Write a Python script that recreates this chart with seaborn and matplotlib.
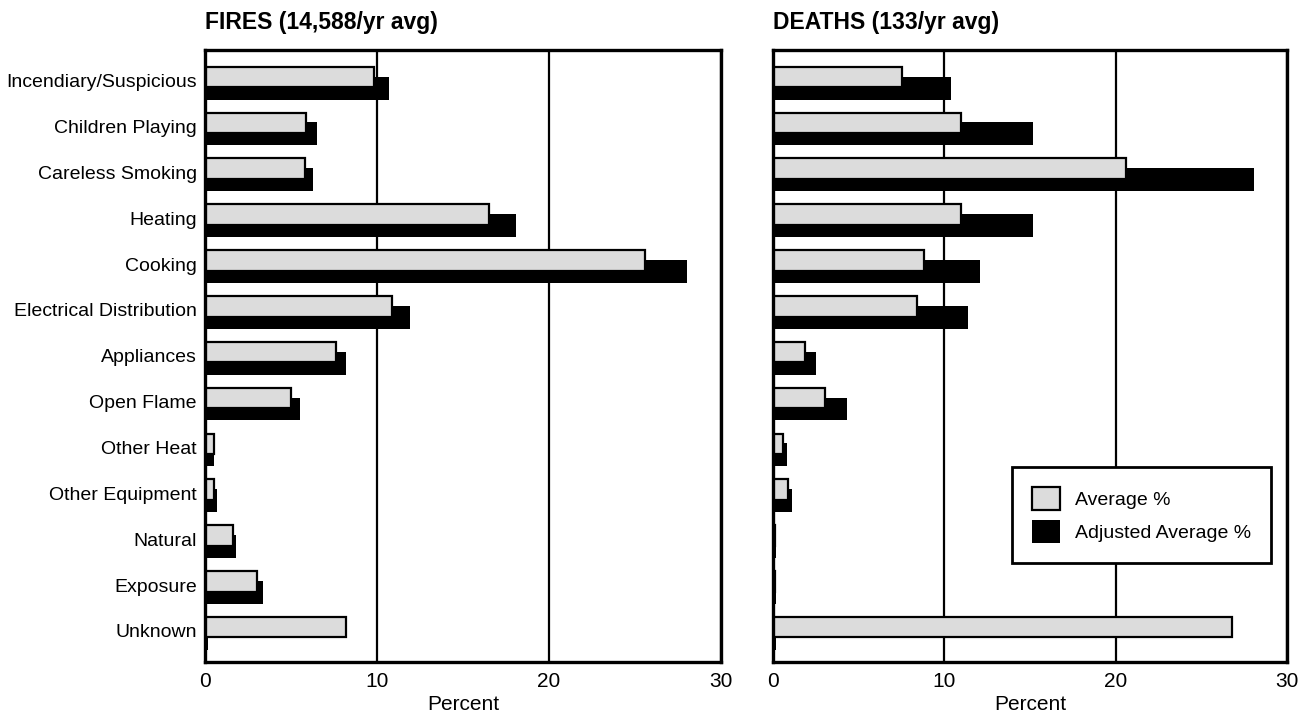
import numpy as np
import matplotlib.pyplot as plt
import seaborn as sns

# causes, top to bottom
categories = ["Incendiary/Suspicious", "Children Playing", "Careless Smoking", "Heating",
              "Cooking", "Electrical Distribution", "Appliances", "Open Flame",
              "Other Heat", "Other Equipment", "Natural", "Exposure", "Unknown"]

# percent values
fires_avg = [9.8, 5.9, 5.8, 16.5, 25.6, 10.9, 7.6, 5.0, 0.5, 0.55, 1.65, 3.05, 8.2]
fires_adj = [10.7, 6.5, 6.3, 18.1, 28.0, 11.9, 8.2, 5.5, 0.55, 0.7, 1.8, 3.35, 0.15]
deaths_avg = [7.55, 11.0, 20.6, 11.0, 8.8, 8.4, 1.9, 3.05, 0.6, 0.9, 0.1, 0.1, 26.8]
deaths_adj = [10.4, 15.2, 28.1, 15.2, 12.1, 11.4, 2.5, 4.3, 0.8, 1.1, 0.15, 0.15, 0.15]

xticks = [0, 10, 20, 30]

sns.set_style("white")
plt.rcParams['font.family'] = ['Liberation Sans', 'DejaVu Sans']
plt.rcParams['text.color'] = 'black'
plt.rcParams['axes.labelcolor'] = 'black'

fig = plt.figure(figsize=(13.03, 7.24), dpi=100)
ax1 = fig.add_axes([0.1573, 0.0856, 0.396, 0.8453])
ax2 = fig.add_axes([0.5932, 0.0856, 0.3945, 0.8453])

pos = np.arange(len(categories))


def panel(ax, avg, adj, title):
    sns.barplot(x=adj, y=pos + 0.24, orient='h', native_scale=True, width=0.5,
                color='black', saturation=1, linewidth=0, errorbar=None,
                ax=ax, label='Adjusted Average %')
    sns.barplot(x=avg, y=pos, orient='h', native_scale=True, width=0.45,
                color='#dcdcdc', saturation=1, edgecolor='black', linewidth=1.6,
                errorbar=None, ax=ax, label='Average %')
    if ax.get_legend():
        ax.get_legend().remove()
    ax.set_xlim(0, 30)
    ax.set_ylim(12.76, -0.59)
    ax.set_xticks(xticks)
    ax.xaxis.grid(True, color='black', linewidth=1.6)
    ax.yaxis.grid(False)
    ax.set_axisbelow(True)
    for s in ax.spines.values():
        s.set_color('black')
        s.set_linewidth(2.4)
    ax.tick_params(axis='x', length=0, labelsize=15, colors='black', pad=7)
    ax.tick_params(axis='y', length=0, labelsize=14, colors='black', pad=6)
    ax.set_xlabel("Percent", fontsize=15, color='black', labelpad=3)
    ax.set_ylabel("")
    ax.set_title(title, loc='left', fontsize=16.5, fontweight='bold', pad=15,
                 color='black')


panel(ax1, fires_avg, fires_adj, "FIRES (14,588/yr avg)")
panel(ax2, deaths_avg, deaths_adj, "DEATHS (133/yr avg)")

ax1.set_yticks(pos + 0.08)
ax1.set_yticklabels(categories)
ax2.set_yticks([])

h, l = ax2.get_legend_handles_labels()
leg = ax2.legend(h[::-1], l[::-1], loc='lower right', bbox_to_anchor=(0.969, 0.162),
                 borderaxespad=0, fancybox=False, framealpha=1, edgecolor='black',
                 fontsize=14, handlelength=1.45, handleheight=1.45, borderpad=1.0,
                 labelspacing=0.55, handletextpad=0.8, labelcolor='black')
leg.get_frame().set_linewidth(2)

fig.savefig('out.png', dpi=100)
